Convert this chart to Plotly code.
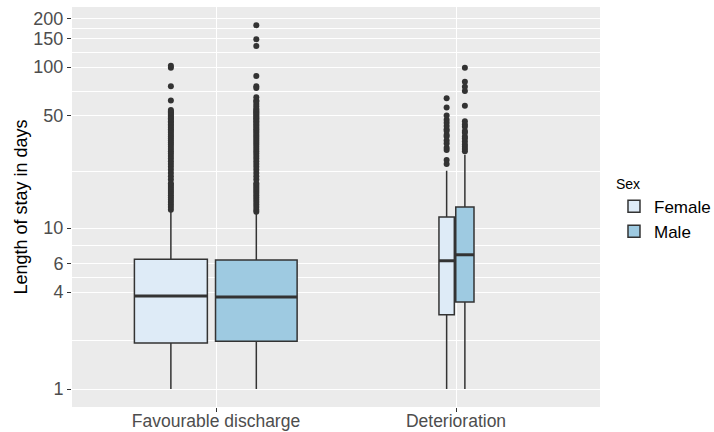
import plotly.graph_objects as go
import math

# ---- data ----
categories = ["Favourable discharge", "Deterioration"]
sexes = ["Female", "Male"]

# box statistics per sex, ordered as categories
lower_fence = {"Female": [1.0, 1.0], "Male": [1.0, 1.0]}
q1_vals = {"Female": [1.93, 2.89], "Male": [1.98, 3.47]}
median_vals = {"Female": [3.78, 6.26], "Male": [3.73, 6.82]}
q3_vals = {"Female": [6.4, 11.7], "Male": [6.33, 13.5]}
upper_fence = {"Female": [12.8, 22.7], "Male": [12.5, 28.5]}

outliers_fav_female = [13, 13.5, 14, 14.5, 15, 15.5, 16, 16.5, 17, 17.5, 18, 18.5, 19, 20, 21, 22, 23,
                       24, 25, 26, 27, 28, 29, 30, 31, 32, 33, 34, 35, 36, 37, 38, 39, 40, 41, 42,
                       43, 44, 45, 46, 47, 48, 49, 50, 51, 52, 53, 54, 62, 76, 99, 102]
outliers_fav_male = [12.6, 13, 13.5, 14, 14.5, 15, 15.5, 16, 16.5, 17, 17.5, 18, 18.5, 19, 20, 21, 22,
                     23, 24, 25, 26, 27, 28, 29, 30, 31, 32, 33, 34, 35, 36, 37, 38, 39, 40, 41, 42,
                     43, 44, 45, 46, 47, 48, 49, 50, 51, 52, 53, 54, 55, 57, 59, 61, 62, 65, 74, 76,
                     88, 135, 149, 182]
outliers_det_female = [25, 26.5, 30.5, 31.5, 33.5, 35, 37, 38, 40, 41, 43, 45, 47, 50, 56, 64]
outliers_det_male = [30, 31, 32, 33, 34.5, 36, 37, 39, 40, 42.5, 44, 46, 57.5, 71, 75.5, 81, 99]
outliers = {"Female": [outliers_fav_female, outliers_det_female],
            "Male": [outliers_fav_male, outliers_det_male]}

y_ticks = [1, 4, 6, 10, 50, 100, 150, 200]

# ---- styling / layout ----
fills = {"Female": "#DEEBF7", "Male": "#9ECAE1"}
# box centre offsets and widths (x units, category at 0 / 1)
offsets = {"Female": [-0.188, -0.039], "Male": [0.168, 0.037]}
widths = {"Female": [0.304, 0.064], "Male": [0.34, 0.076]}
edge = "#333333"

fig = go.Figure()
for s in sexes:
    for i, cat in enumerate(categories):
        xpos = i + offsets[s][i]
        fig.add_trace(go.Box(
            x=[xpos], q1=[q1_vals[s][i]], median=[median_vals[s][i]], q3=[q3_vals[s][i]],
            lowerfence=[lower_fence[s][i]], upperfence=[upper_fence[s][i]],
            width=widths[s][i], whiskerwidth=0, boxpoints=False,
            fillcolor=fills[s], line=dict(color=edge, width=1.5),
            name=s, legendgroup=s, showlegend=(i == 0), hoverinfo="skip"))
for s in sexes:
    for i, cat in enumerate(categories):
        xpos = i + offsets[s][i]
        # thicker median line
        fig.add_trace(go.Scatter(
            x=[xpos - widths[s][i] / 2, xpos + widths[s][i] / 2],
            y=[median_vals[s][i], median_vals[s][i]], mode="lines",
            line=dict(color=edge, width=3), showlegend=False, hoverinfo="skip"))
        fig.add_trace(go.Scatter(
            x=[xpos] * len(outliers[s][i]), y=outliers[s][i], mode="markers",
            marker=dict(color=edge, size=6), showlegend=False, hoverinfo="skip"))

minor_vals = [math.sqrt(a * b) for a, b in zip(y_ticks[:-1], y_ticks[1:])]

fig.update_layout(
    width=714, height=432,
    margin=dict(l=72, r=114, t=7, b=25, autoexpand=False),
    paper_bgcolor="white", plot_bgcolor="#EBEBEB",
    font=dict(family="Liberation Sans, Arial, sans-serif", color="black"),
    showlegend=True,
    legend=dict(title=dict(text="Sex", font=dict(size=14)), font=dict(size=17),
                x=1.0265, xanchor="left", y=0.4925, yanchor="middle",
                bgcolor="rgba(0,0,0,0)", tracegroupgap=0, itemwidth=30,
                borderwidth=0),
    xaxis=dict(range=[-0.6, 1.6], tickmode="array", tickvals=[0, 1], ticktext=categories,
               showgrid=True, gridcolor="white", gridwidth=1.2, zeroline=False,
               ticks="outside", ticklen=4, tickcolor=edge, automargin=False,
               ticklabelstandoff=-6,
               tickfont=dict(size=17.5, color="#4D4D4D")),
    yaxis=dict(type="log", range=[math.log10(0.773), math.log10(236)],
               tickmode="array", tickvals=y_ticks, ticktext=[str(t) for t in y_ticks],
               showgrid=True, gridcolor="white", gridwidth=1.2, zeroline=False,
               ticks="outside", ticklen=4, tickcolor=edge, automargin=False,
               tickfont=dict(size=18, color="#4D4D4D"),
               title=dict(text="Length of stay in days", font=dict(size=18), standoff=1),
               minor=dict(tickmode="array", tickvals=minor_vals, showgrid=True,
                          gridcolor="white", gridwidth=0.6, ticks="")),
)

fig.write_html("out.html", config={"displayModeBar": False},
               post_script="document.body.style.margin='0';")
